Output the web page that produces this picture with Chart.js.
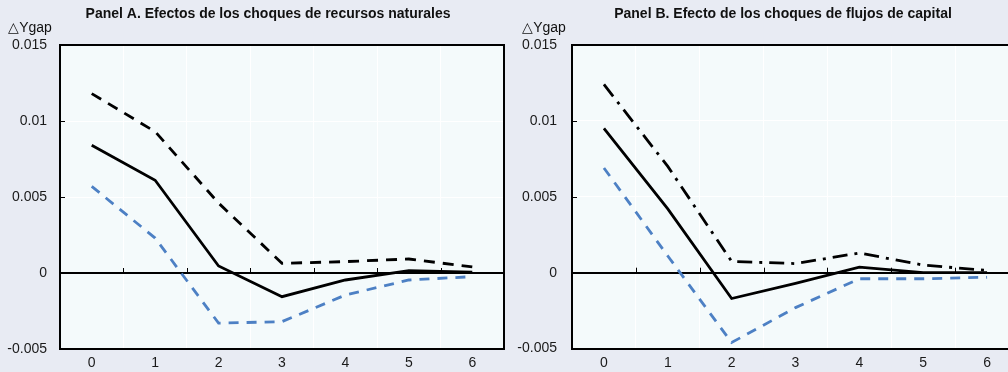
<!DOCTYPE html>
<html>
<head>
<meta charset="utf-8">
<script src="https://cdn.jsdelivr.net/npm/chart.js@4/dist/chart.umd.min.js"></script>
<style>
  body { margin: 0; background: #e8ebf3; width: 1008px; height: 372px; overflow: hidden; position: relative; }
  #wrapA { position: absolute; left: 0; top: 0; width: 508px; height: 372px; }
  #wrapB { position: absolute; left: 504px; top: 0; width: 504px; height: 372px; overflow: hidden; }
  canvas { position: absolute; left: 0; top: 0; }
</style>
</head>
<body>
<div id="wrapA"><canvas id="chartA" width="508" height="372"></canvas></div>
<div id="wrapB"><canvas id="chartB" width="520" height="372"></canvas></div>
<script>
// Dati
const categories = ['0', '1', '2', '3', '4', '5', '6'];
const yMin = -0.005;
const yMax = 0.015;
const yStep = 0.005;

// Panel A - choques de recursos naturales
const titleA = 'Panel A. Efectos de los choques de recursos naturales';
const aCentral = [0.0084, 0.0061, 0.00046, -0.00156, -0.00046, 0.00015, 0.00005];
const aUpper = [0.0118, 0.0093, 0.0046, 0.00064, 0.00075, 0.00092, 0.0004];
const aLower = [0.0057, 0.0023, -0.0033, -0.0032, -0.00145, -0.00046, -0.00024];

// Panel B - choques de flujos de capital
const titleB = 'Panel B. Efecto de los choques de flujos de capital';
const bCentral = [0.0095, 0.0042, -0.0017, -0.0007, 0.00037, 0.0, 0.0];
const bUpper = [0.0124, 0.0070, 0.00074, 0.0006, 0.0013, 0.0005, 0.00015];
const bLower = [0.0069, 0.0011, -0.0046, -0.0023, -0.0004, -0.0004, -0.0003];

const yLabel = '\u25B3Ygap';
const fontFamily = "'Liberation Sans', Arial, sans-serif";
const blue = '#4d80c4';

// Plugin per sfondo, cornice, tacche interne e testi
const panelDecor = {
  id: 'panelDecor',
  beforeDraw(chart) {
    const a = chart.chartArea;
    const ctx = chart.ctx;
    ctx.save();
    ctx.fillStyle = '#f4fafb';
    ctx.fillRect(a.left, a.top, a.right - a.left, a.bottom - a.top);
    ctx.restore();
  },
  afterDraw(chart) {
    const a = chart.chartArea;
    const ctx = chart.ctx;
    const opts = chart.options.plugins.panelDecor;
    const xs = chart.scales.x;
    const ys = chart.scales.y;
    ctx.save();
    ctx.strokeStyle = '#000';
    ctx.lineWidth = 2;
    ctx.beginPath();
    ctx.moveTo(a.left, a.top);
    ctx.lineTo(a.right, a.top);
    ctx.lineTo(a.right, a.bottom);
    ctx.stroke();
    // tacche sull'asse y (verso l'interno)
    ctx.lineWidth = 1;
    ys.ticks.forEach((t, i) => {
      const y = Math.round(ys.getPixelForTick(i)) + 0.5;
      ctx.beginPath();
      ctx.moveTo(a.left, y);
      ctx.lineTo(a.left + 5, y);
      ctx.stroke();
    });
    // tacche sulla linea dello zero
    const y0 = ys.getPixelForValue(0);
    for (let i = 1; i < categories.length; i++) {
      const x = Math.round((xs.getPixelForTick(i - 1) + xs.getPixelForTick(i)) / 2) + 0.5;
      ctx.beginPath();
      ctx.moveTo(x, y0);
      ctx.lineTo(x, y0 - 5);
      ctx.stroke();
    }
    // titolo e etichetta asse
    ctx.fillStyle = '#111';
    ctx.textAlign = 'center';
    ctx.textBaseline = 'middle';
    ctx.font = 'bold 14px ' + fontFamily;
    ctx.fillText(opts.title, opts.titleX, 14);
    ctx.font = '14px ' + fontFamily;
    ctx.fillText(yLabel, opts.labelX, 28);
    ctx.restore();
  }
};

function makeChart(id, central, upper, lower, upperDash, yWidth, padRight, title, titleX, labelX, labelPad) {
  const ctx = document.getElementById(id).getContext('2d');
  return new Chart(ctx, {
    type: 'line',
    data: {
      labels: categories,
      datasets: [
        { data: upper, borderColor: '#000', borderWidth: 2.8, borderDash: upperDash, pointRadius: 0, tension: 0, fill: false },
        { data: central, borderColor: '#000', borderWidth: 2.8, pointRadius: 0, tension: 0, fill: false },
        { data: lower, borderColor: blue, borderWidth: 2.8, borderDash: [10, 8], pointRadius: 0, tension: 0, fill: false }
      ]
    },
    options: {
      responsive: false,
      animation: false,
      layout: { padding: { top: 45, right: padRight, left: 0, bottom: 0 } },
      plugins: {
        legend: { display: false },
        tooltip: { enabled: false },
        panelDecor: { title: title, titleX: titleX, labelX: labelX }
      },
      scales: {
        x: {
          offset: true,
          grid: { offset: true, color: '#ffffff', lineWidth: 1, drawTicks: false },
          border: { display: true, color: '#000', width: 2 },
          ticks: { color: '#1a1a1a', font: { family: fontFamily, size: 14 }, padding: 6 },
          afterFit: (scale) => { scale.height = 23; }
        },
        y: {
          min: yMin,
          max: yMax,
          grid: {
            drawTicks: false,
            color: (c) => (c.tick && Math.abs(c.tick.value) < 1e-9 ? '#000' : '#ffffff'),
            lineWidth: (c) => (c.tick && Math.abs(c.tick.value) < 1e-9 ? 2 : 1)
          },
          border: { display: true, color: '#000', width: 2 },
          ticks: {
            stepSize: yStep,
            color: '#1a1a1a',
            font: { family: fontFamily, size: 14 },
            padding: labelPad,
            callback: (v) => String(+Number(v).toFixed(3))
          },
          afterFit: (scale) => { scale.width = yWidth; }
        }
      }
    },
    plugins: [panelDecor]
  });
}

makeChart('chartA', aCentral, aUpper, aLower, [11, 8], 60, 4, titleA, 268, 30, 13);
makeChart('chartB', bCentral, bUpper, bLower, [15, 7, 3, 7], 68, 5, titleB, 279, 40, 15);
</script>
</body>
</html>
